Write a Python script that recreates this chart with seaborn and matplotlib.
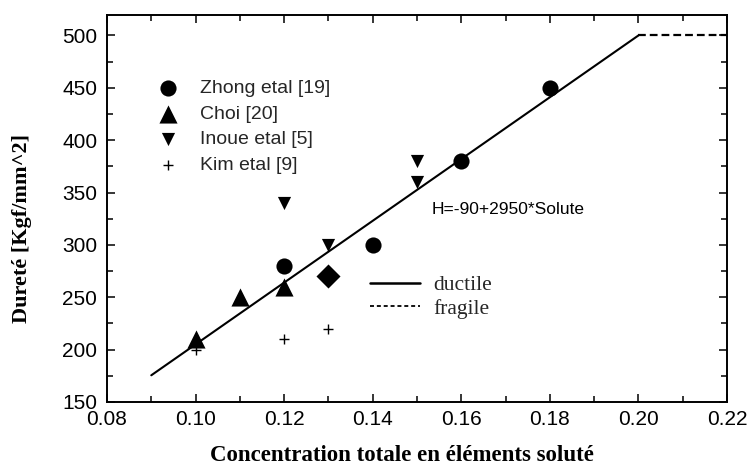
import matplotlib
matplotlib.use("Agg")
import matplotlib.pyplot as plt
from matplotlib.lines import Line2D
from matplotlib.ticker import MultipleLocator
import seaborn as sns
import pandas as pd

# ---- data ----
zhong_x = [0.12, 0.14, 0.16, 0.18]
zhong_y = [280, 300, 380, 450]
choi_x = [0.10, 0.11, 0.12]
choi_y = [210, 250, 260]
inoue_x = [0.12, 0.13, 0.15, 0.15]
inoue_y = [340, 300, 380, 360]
kim_x = [0.10, 0.12, 0.13]
kim_y = [200, 210, 220]
other_x = [0.13]
other_y = [270]
ductile_x = [0.09, 0.20]
ductile_y = [175.5, 500]
fragile_x = [0.20, 0.22]
fragile_y = [500, 500]
series_labels = ["Zhong etal [19]", "Choi [20]", "Inoue etal [5]", "Kim etal [9]"]
equation = "H=-90+2950*Solute"
xlabel = "Concentration totale en éléments soluté"
ylabel = "Dureté [Kgf/mm^2]"
xticks = [0.08, 0.10, 0.12, 0.14, 0.16, 0.18, 0.20, 0.22]
yticks = [150, 200, 250, 300, 350, 400, 450, 500]

sns.set_theme(style="ticks")
plt.rcParams["font.family"] = ["Liberation Sans", "DejaVu Sans"]

fig = plt.figure(figsize=(7.54, 4.65), dpi=100)
ax = fig.add_axes([0.1419, 0.1355, 0.8223, 0.8333])

# fit lines
sns.lineplot(x=ductile_x, y=ductile_y, ax=ax, color="black", lw=1.5,
             zorder=2, legend=False)
ax.plot(fragile_x, fragile_y, color="black", lw=1.6, dashes=(3.5, 1.8), zorder=2)

# points
sns.scatterplot(x=zhong_x, y=zhong_y, marker="o", s=135, color="black",
                edgecolor="black", linewidth=0, label=series_labels[0], ax=ax, zorder=3)
sns.scatterplot(x=choi_x, y=choi_y, marker="^", s=170, color="black",
                edgecolor="black", linewidth=0, label=series_labels[1], ax=ax, zorder=3)
sns.scatterplot(x=inoue_x, y=inoue_y, marker="v", s=90, color="black",
                edgecolor="black", linewidth=0, label=series_labels[2], ax=ax, zorder=3)
sns.scatterplot(x=kim_x, y=kim_y, marker="+", s=45, color="black",
                linewidth=1.0, label=series_labels[3], ax=ax, zorder=3)
sns.scatterplot(x=other_x, y=other_y, marker="D", s=150, color="black",
                edgecolor="black", linewidth=0, ax=ax, zorder=3)

ax.set_xlim(0.08, 0.22)
ax.set_ylim(150, 520)
ax.set_xticks(xticks)
ax.set_xticklabels([f"{v:.2f}" for v in xticks])
ax.set_yticks(yticks)
ax.xaxis.set_minor_locator(MultipleLocator(0.01))
ax.yaxis.set_minor_locator(MultipleLocator(25))
ax.tick_params(which="both", direction="in", top=True, right=True, color="black",
               width=1.1)
ax.tick_params(which="major", length=6)
ax.tick_params(which="minor", length=4)
ax.tick_params(axis="x", which="major", labelsize=15, pad=6, labelcolor="black")
ax.tick_params(axis="y", which="major", labelsize=15, pad=7, labelcolor="black")
for sp in ax.spines.values():
    sp.set_visible(True)
    sp.set_color("black")
    sp.set_linewidth(1.4)

ax.set_xlabel(xlabel, fontsize=16.5, fontweight="bold", va="center",
              family=["Liberation Serif", "DejaVu Serif"], color="black")
ax.xaxis.set_label_coords(0.4752, -0.137)
ax.set_ylabel(ylabel, fontsize=16, fontweight="bold", va="center",
              family=["Liberation Serif", "DejaVu Serif"], color="black")
ax.yaxis.set_label_coords(-0.137, 0.449)

ax.text(0.1534, 334, equation, fontsize=12.5, va="center", ha="left", color="black")

leg1 = ax.legend(loc="upper left", bbox_to_anchor=(0.0766, 0.833), frameon=False,
                 fontsize=14, borderpad=0, borderaxespad=0, handlelength=1.4,
                 handletextpad=0.95, labelspacing=0.42)
ax.add_artist(leg1)

handles2 = [Line2D([], [], color="black", lw=1.8),
            Line2D([], [], color="black", lw=1.3, dashes=(2.2, 1.6))]
leg2 = ax.legend(handles2, ["ductile", "fragile"], loc="upper left",
                 bbox_to_anchor=(0.425, 0.327), frameon=False,
                 prop={"family": ["Liberation Serif", "DejaVu Serif"], "size": 15.5},
                 borderpad=0, borderaxespad=0, handlelength=2.3,
                 handletextpad=0.6, labelspacing=0.15)

fig.savefig("out.png", dpi=100)
